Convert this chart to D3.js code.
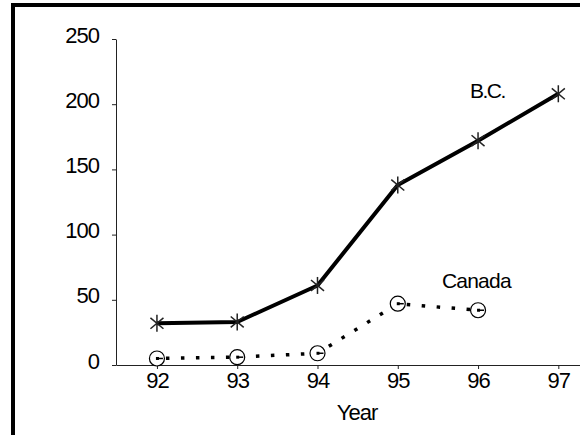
<!DOCTYPE html>
<html>
<head>
<meta charset="utf-8">
<script src="https://cdn.jsdelivr.net/npm/d3@7"></script>
<style>
  body { margin: 0; background: #fff; }
  text { font-family: "Liberation Sans", Arial, sans-serif; fill: #000; }
</style>
</head>
<body>
<svg id="chart"></svg>
<script>
var width = 580; // Width of the SVG element
var height = 435; // Height of the SVG element

// chart data
var years = [92, 93, 94, 95, 96, 97];
var bcValues = [32, 33, 61, 138, 172, 208];
var canadaYears = [92, 93, 94, 95, 96];
var canadaValues = [5, 6, 9, 47, 42];
var yTicks = [0, 50, 100, 150, 200, 250];

var bcData = years.map(function(d, i) { return { year: d, value: bcValues[i] }; });
var canadaData = canadaYears.map(function(d, i) { return { year: d, value: canadaValues[i] }; });

var svg = d3.select('#chart')
  .attr('width', width)
  .attr('height', height);

// frame (only left and top edges show)
svg.append('path')
  .attr('d', 'M13,435 V5 H580')
  .attr('fill', 'none')
  .attr('stroke', '#000')
  .attr('stroke-width', 4);

// scales
var x = d3.scaleLinear()
  .domain([91.49, 97.27])
  .range([116, 580]);

var y = d3.scaleLinear()
  .domain([0, 250])
  .range([365, 39]);

// x axis
var xAxis = svg.append('g')
  .attr('transform', 'translate(0,365)')
  .call(d3.axisBottom(x).tickValues(years).tickFormat(d3.format('d'))
    .tickSize(4).tickSizeOuter(0).tickPadding(3));
xAxis.select('.domain').attr('stroke', '#222');
xAxis.selectAll('line').attr('stroke', '#222');
xAxis.selectAll('text')
  .style('font-size', '22px')
  .style('letter-spacing', '-1px')
  .style('font-family', '"Liberation Sans", Arial, sans-serif')
  .attr('fill', '#000');

// y axis
var yAxis = svg.append('g')
  .attr('transform', 'translate(116,0)')
  .call(d3.axisLeft(y).tickValues(yTicks).tickSize(4).tickSizeOuter(0).tickPadding(13));
yAxis.select('.domain').attr('stroke', '#222');
yAxis.selectAll('line').attr('stroke', '#222');
yAxis.selectAll('text')
  .attr('dy', '0.32em')
  .attr('y', -4)
  .style('font-size', '22px')
  .style('letter-spacing', '-1px')
  .style('font-family', '"Liberation Sans", Arial, sans-serif')
  .attr('fill', '#000');

// x axis label
svg.append('text')
  .attr('x', 357)
  .attr('y', 420)
  .attr('text-anchor', 'middle')
  .style('font-size', '22px')
  .style('letter-spacing', '-1px')
  .text('Year');

var line = d3.line()
  .x(function(d) { return x(d.year); })
  .y(function(d) { return y(d.value); });

// B.C. line
svg.append('path')
  .datum(bcData)
  .attr('d', line)
  .attr('fill', 'none')
  .attr('stroke', '#000')
  .attr('stroke-width', 4)
  .attr('stroke-linejoin', 'round');

// Canada dotted line
svg.append('path')
  .datum(canadaData)
  .attr('d', line)
  .attr('fill', 'none')
  .attr('stroke', '#000')
  .attr('stroke-width', 3.5)
  .attr('stroke-dasharray', '3.5 11.5')
  .attr('stroke-dashoffset', -9);

// asterisk markers
var star = svg.selectAll('.star')
  .data(bcData)
  .enter()
  .append('g')
  .attr('class', 'star')
  .attr('transform', function(d) { return 'translate(' + x(d.year) + ',' + y(d.value) + ')'; });
[90, 40, -40].forEach(function(a) {
  var r = 8.5, t = a * Math.PI / 180;
  star.append('line')
    .attr('x1', -r * Math.cos(t)).attr('y1', -r * Math.sin(t))
    .attr('x2', r * Math.cos(t)).attr('y2', r * Math.sin(t))
    .attr('stroke', '#222')
    .attr('stroke-width', 1.5);
});

// circle markers
var circ = svg.selectAll('.circ')
  .data(canadaData)
  .enter()
  .append('g')
  .attr('class', 'circ')
  .attr('transform', function(d) { return 'translate(' + x(d.year) + ',' + y(d.value) + ')'; });
circ.append('circle')
  .attr('r', 7.5)
  .attr('fill', '#fff')
  .attr('stroke', '#000')
  .attr('stroke-width', 1.2);
circ.append('line')
  .attr('x1', 0).attr('y1', 0)
  .attr('x2', 6).attr('y2', 0)
  .attr('stroke', '#000')
  .attr('stroke-width', 1.5);
circ.append('rect')
  .attr('x', -1).attr('y', -1.5)
  .attr('width', 3).attr('height', 3)
  .attr('fill', '#000');

// series labels
svg.append('text')
  .attr('x', 470)
  .attr('y', 98)
  .style('font-size', '21px')
  .style('letter-spacing', '-1.5px')
  .text('B.C.');

svg.append('text')
  .attr('x', 442)
  .attr('y', 288)
  .style('font-size', '21px')
  .style('letter-spacing', '-0.8px')
  .text('Canada');
</script>
</body>
</html>
